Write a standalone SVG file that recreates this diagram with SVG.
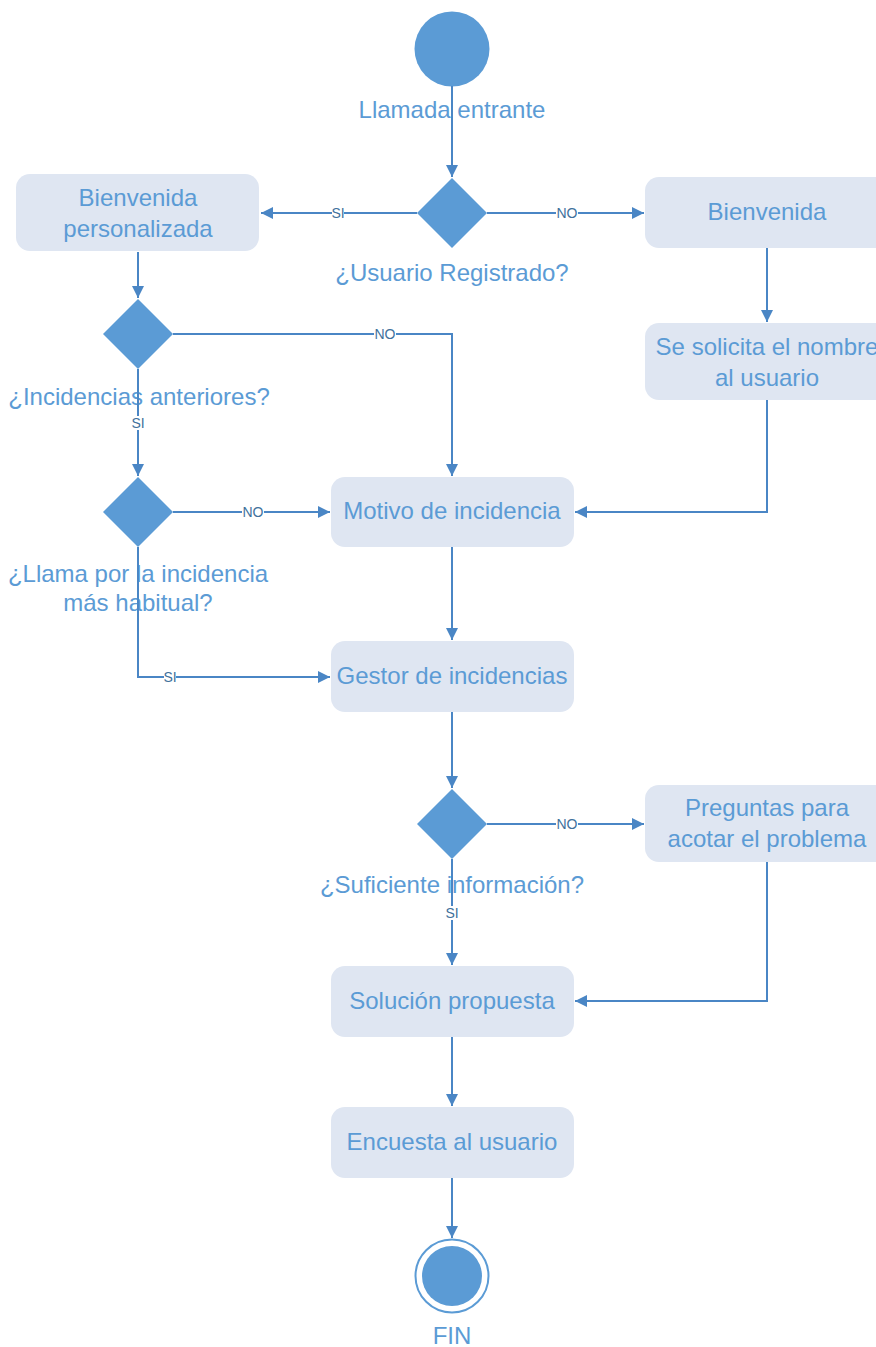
<svg xmlns="http://www.w3.org/2000/svg" width="876" height="1347" viewBox="0 0 876 1347">
<style>
.box{fill:#dfe6f2;}
.solid{fill:#5b9bd5;}
.t{font-family:"Liberation Sans",Arial,sans-serif;font-size:24px;fill:#5b9bd5;text-anchor:middle;}
.c{fill:none;stroke:#4a86c5;stroke-width:2;}
.lb{font-family:"Liberation Sans",Arial,sans-serif;font-size:14px;fill:#41719c;text-anchor:middle;}
.lbg{fill:#ffffff;}
</style>
<defs>
<marker id="arr" markerUnits="userSpaceOnUse" markerWidth="12" markerHeight="12" refX="12" refY="6" orient="auto">
<path d="M0,0 L12,6 L0,12 z" fill="#4a86c5"/>
</marker>
</defs>
<rect width="876" height="1347" fill="#ffffff"/>

<g id="start">
<circle class="solid" cx="452" cy="49" r="37.5"/>
<text class="t" x="452" y="118">Llamada entrante</text>
</g>
<g id="d-usuario">
<polygon class="solid" points="452,178 487,213 452,248 417,213"/>
<text class="t" x="452" y="281">¿Usuario Registrado?</text>
</g>
<g id="n-bienvenida-personalizada">
<rect class="box" x="16" y="174" width="243" height="77" rx="14"/>
<text class="t" x="138" y="206">Bienvenida</text>
<text class="t" x="138" y="237">personalizada</text>
</g>
<g id="n-bienvenida">
<rect class="box" x="645" y="177" width="244" height="71" rx="14"/>
<text class="t" x="767" y="220">Bienvenida</text>
</g>
<g id="n-solicita">
<rect class="box" x="645" y="323" width="244" height="77" rx="14"/>
<text class="t" x="767" y="355">Se solicita el nombre</text>
<text class="t" x="767" y="386">al usuario</text>
</g>
<g id="d-incidencias">
<polygon class="solid" points="138,299 173,334 138,369 103,334"/>
<text class="t" x="139" y="405">¿Incidencias anteriores?</text>
</g>
<g id="d-llama">
<polygon class="solid" points="138,477 173,512 138,547 103,512"/>
<text class="t" x="138" y="582">¿Llama por la incidencia</text>
<text class="t" x="138" y="611">más habitual?</text>
</g>
<g id="n-motivo">
<rect class="box" x="331" y="477" width="243" height="70" rx="14"/>
<text class="t" x="452" y="519">Motivo de incidencia</text>
</g>
<g id="n-gestor">
<rect class="box" x="331" y="641" width="243" height="71" rx="14"/>
<text class="t" x="452" y="684">Gestor de incidencias</text>
</g>
<g id="d-suficiente">
<polygon class="solid" points="452,789 487,824 452,859 417,824"/>
<text class="t" x="452" y="893">¿Suficiente información?</text>
</g>
<g id="n-preguntas">
<rect class="box" x="645" y="785" width="244" height="77" rx="14"/>
<text class="t" x="767" y="816">Preguntas para</text>
<text class="t" x="767" y="847">acotar el problema</text>
</g>
<g id="n-solucion">
<rect class="box" x="331" y="966" width="243" height="71" rx="14"/>
<text class="t" x="452" y="1009">Solución propuesta</text>
</g>
<g id="n-encuesta">
<rect class="box" x="331" y="1107" width="243" height="71" rx="14"/>
<text class="t" x="452" y="1150">Encuesta al usuario</text>
</g>
<g id="end">
<circle cx="452" cy="1276" r="36.5" fill="#ffffff" stroke="#5b9bd5" stroke-width="2"/>
<circle class="solid" cx="452" cy="1276" r="30"/>
<text class="t" x="452" y="1344">FIN</text>
</g>

<g id="connectors">
<path class="c" d="M452,86 L452,177" marker-end="url(#arr)"/>
<path class="c" d="M417,213 L261,213" marker-end="url(#arr)"/>
<path class="c" d="M487,213 L644,213" marker-end="url(#arr)"/>
<path class="c" d="M767,248 L767,322" marker-end="url(#arr)"/>
<path class="c" d="M767,400 L767,512 L575,512" marker-end="url(#arr)"/>
<path class="c" d="M138,252 L138,298" marker-end="url(#arr)"/>
<path class="c" d="M173,334 L452,334 L452,476" marker-end="url(#arr)"/>
<path class="c" d="M138,369 L138,476" marker-end="url(#arr)"/>
<path class="c" d="M173,512 L330,512" marker-end="url(#arr)"/>
<path class="c" d="M138,547 L138,677 L330,677" marker-end="url(#arr)"/>
<path class="c" d="M452,547 L452,640" marker-end="url(#arr)"/>
<path class="c" d="M452,712 L452,788" marker-end="url(#arr)"/>
<path class="c" d="M487,824 L644,824" marker-end="url(#arr)"/>
<path class="c" d="M452,859 L452,965" marker-end="url(#arr)"/>
<path class="c" d="M767,862 L767,1001 L575,1001" marker-end="url(#arr)"/>
<path class="c" d="M452,1037 L452,1106" marker-end="url(#arr)"/>
<path class="c" d="M452,1178 L452,1238" marker-end="url(#arr)"/>
<g id="connector-labels">
<rect class="lbg" x="332" y="206" width="12" height="14"/>
<text class="lb" x="338" y="218">SI</text>
<rect class="lbg" x="556" y="206" width="22" height="14"/>
<text class="lb" x="567" y="218">NO</text>
<rect class="lbg" x="374" y="327" width="22" height="14"/>
<text class="lb" x="385" y="339">NO</text>
<rect class="lbg" x="132" y="416" width="12" height="14"/>
<text class="lb" x="138" y="428">SI</text>
<rect class="lbg" x="242" y="505" width="22" height="14"/>
<text class="lb" x="253" y="517">NO</text>
<rect class="lbg" x="164" y="670" width="12" height="14"/>
<text class="lb" x="170" y="682">SI</text>
<rect class="lbg" x="556" y="817" width="22" height="14"/>
<text class="lb" x="567" y="829">NO</text>
<rect class="lbg" x="446" y="906" width="12" height="14"/>
<text class="lb" x="452" y="918">SI</text>
</g>
</g>
</svg>
